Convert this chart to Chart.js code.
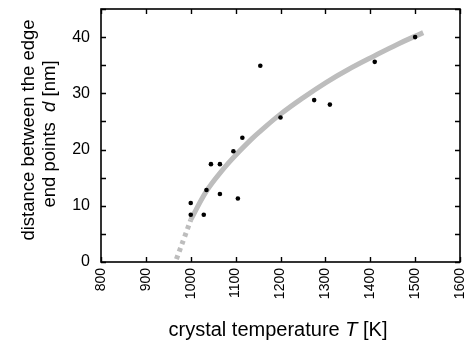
<!DOCTYPE html>
<html>
<head>
<meta charset="utf-8">
<script src="https://cdn.jsdelivr.net/npm/chart.js@4.4.1/dist/chart.umd.min.js"></script>
<style>
  html, body { margin: 0; padding: 0; background: #fff; }
  #wrap { position: relative; width: 468px; height: 342px; }
</style>
</head>
<body>
<div id="wrap"><canvas id="myChart" width="468" height="342"></canvas></div>
<script>
// measured points: crystal temperature T [K] vs distance d [nm]
const tempK = [1000, 1000, 1029, 1035, 1045, 1065, 1065, 1095, 1105, 1115, 1155, 1200, 1275, 1310, 1410, 1500];
const distNm = [10.5, 8.4, 8.4, 12.8, 17.4, 17.4, 12.1, 19.7, 11.3, 22.1, 34.9, 25.7, 28.8, 28.0, 35.6, 40.0];

// fitted curve
const fitT = [1000, 1035, 1070, 1100, 1136, 1154, 1200, 1250, 1303, 1350, 1410, 1460, 1518];
const fitD = [7.5, 12.6, 16.3, 19.0, 21.9, 23.2, 26.3, 29.2, 32.0, 34.2, 36.7, 38.7, 40.8];

// extrapolated (dashed) part
const extT = [968, 985, 1000];
const extD = [0.5, 4.2, 7.5];

const xTicks = [800, 900, 1000, 1100, 1200, 1300, 1400, 1500, 1600];
const yTicks = [0, 5, 10, 15, 20, 25, 30, 35, 40, 45];

const FONT = "'Liberation Sans', Arial, sans-serif";

const toXY = (xs, ys) => xs.map((x, i) => ({ x: x, y: ys[i] }));

// frame, inward ticks on all sides, and the two axis titles (with italic symbols)
const framePlugin = {
  id: 'frame',
  afterDraw(chart) {
    const ctx = chart.ctx;
    const a = chart.chartArea;
    const xs = chart.scales.x;
    const ys = chart.scales.y;
    ctx.save();
    ctx.strokeStyle = '#000';
    ctx.lineWidth = 1.6;
    ctx.strokeRect(a.left, a.top, a.right - a.left, a.bottom - a.top);
    ctx.lineWidth = 1.4;
    ctx.beginPath();
    xTicks.forEach((v) => {
      const px = Math.round(xs.getPixelForValue(v)) + 0.5;
      ctx.moveTo(px, a.bottom); ctx.lineTo(px, a.bottom - 5);
      ctx.moveTo(px, a.top); ctx.lineTo(px, a.top + 5);
    });
    yTicks.forEach((v) => {
      const py = Math.round(ys.getPixelForValue(v)) + 0.5;
      ctx.moveTo(a.left, py); ctx.lineTo(a.left + 5, py);
      ctx.moveTo(a.right, py); ctx.lineTo(a.right - 5, py);
    });
    ctx.stroke();

    // mixed-style text helper
    const drawParts = (parts, cx, cy) => {
      let w = 0;
      parts.forEach((p) => { ctx.font = p[1]; w += ctx.measureText(p[0]).width; });
      let x = cx - w / 2;
      parts.forEach((p) => {
        ctx.font = p[1];
        ctx.fillText(p[0], x, cy);
        x += ctx.measureText(p[0]).width;
      });
    };
    const xn = '20px ' + FONT;
    const xi = 'italic 20px ' + FONT;
    const yn = '18.5px ' + FONT;
    const yi = 'italic 18.5px ' + FONT;
    ctx.fillStyle = '#000';
    ctx.textBaseline = 'alphabetic';
    ctx.textAlign = 'left';
    drawParts([['crystal temperature ', xn], ['T', xi], [' [K]', xn]], 278, 336);

    ctx.save();
    ctx.translate(34, 130);
    ctx.rotate(-Math.PI / 2);
    drawParts([['distance between the edge', yn]], 0, 0);
    ctx.restore();
    ctx.save();
    ctx.translate(55, 134);
    ctx.rotate(-Math.PI / 2);
    drawParts([['end points  ', yn], ['d', yi], [' [nm]', yn]], 0, 0);
    ctx.restore();
    ctx.restore();
  }
};

const ctx = document.getElementById('myChart').getContext('2d');
const myChart = new Chart(ctx, {
  type: 'scatter',
  data: {
    datasets: [
      {
        data: toXY(tempK, distNm),
        backgroundColor: '#000',
        borderColor: '#000',
        pointRadius: 2.3,
        pointBorderWidth: 0,
      },
      {
        data: toXY(fitT, fitD),
        showLine: true,
        borderColor: '#bdbdbd',
        borderWidth: 5,
        pointRadius: 0,
        tension: 0.4,
      },
      {
        data: toXY(extT, extD),
        showLine: true,
        borderColor: '#bdbdbd',
        borderWidth: 5,
        borderDash: [4, 4],
        pointRadius: 0,
        tension: 0.4,
      },
    ],
  },
  options: {
    responsive: false,
    animation: false,
    events: [],
    layout: { padding: { top: 9, right: 8, left: 0, bottom: 0 } },
    plugins: { legend: { display: false }, tooltip: { enabled: false } },
    scales: {
      x: {
        type: 'linear',
        min: 800,
        max: 1600,
        afterBuildTicks: (s) => { s.ticks = xTicks.map((v) => ({ value: v })); },
        afterFit: (s) => { s.height = 80; s.paddingLeft = 0; s.paddingRight = 0; },
        grid: { display: false, drawTicks: false },
        border: { display: false },
        ticks: {
          color: '#000',
          font: { family: FONT, size: 14 },
          minRotation: 90,
          maxRotation: 90,
          padding: 6,
          callback: (v) => String(v),
        },
      },
      y: {
        min: 0,
        max: 45,
        afterBuildTicks: (s) => { s.ticks = yTicks.map((v) => ({ value: v })); },
        afterFit: (s) => { s.width = 101; s.paddingTop = 0; s.paddingBottom = 0; },
        grid: { display: false, drawTicks: false },
        border: { display: false },
        ticks: {
          color: '#000',
          font: { family: FONT, size: 16 },
          padding: 11,
          callback: (v) => (v % 10 === 0 && v <= 40 ? String(v) : ''),
        },
      },
    },
  },
  plugins: [framePlugin],
});
</script>
</body>
</html>
